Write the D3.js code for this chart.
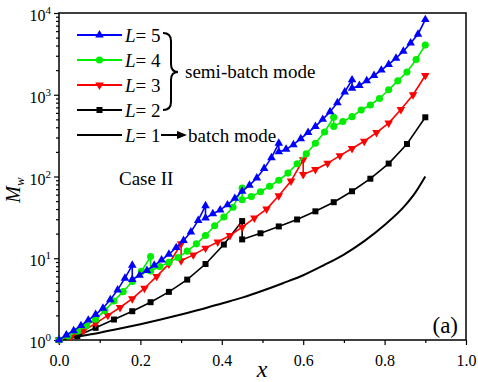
<!DOCTYPE html>
<html>
<head>
<meta charset="utf-8">
<script src="https://cdn.jsdelivr.net/npm/d3@7"></script>
<style>
  body { margin: 0; background: #fff; }
  svg { display: block; }
</style>
</head>
<body>
<svg width="478" height="382" font-family="Liberation Serif, Tinos, Times New Roman, Times, Nimbus Roman, FreeSerif, DejaVu Serif, serif"></svg>
<script>
// ---- data ----
let L5_x = [0, 0.018, 0.036, 0.054, 0.072, 0.09, 0.108, 0.126, 0.144, 0.162, 0.18,
  0.18, 0.198, 0.216, 0.234, 0.252, 0.27, 0.288, 0.306, 0.324, 0.342, 0.36,
  0.36, 0.378, 0.396, 0.414, 0.432, 0.45, 0.468, 0.486, 0.504, 0.522, 0.54,
  0.54, 0.558, 0.576, 0.594, 0.612, 0.63, 0.648, 0.666, 0.684, 0.702, 0.72,
  0.72, 0.738, 0.756, 0.774, 0.792, 0.81, 0.828, 0.846, 0.864, 0.882, 0.9];
let L5_y = [1, 1.15, 1.3, 1.5, 1.75, 2.05, 2.45, 3.1, 4.1, 5.7, 8.2,
  5.5, 6.2, 7.1, 8.2, 9.5, 11.2, 13.5, 16.5, 21, 29, 44,
  31, 35, 39, 45, 54, 66, 78, 96, 125, 170, 255,
  200, 215, 245, 290, 345, 410, 500, 620, 800, 1080, 1520,
  1200, 1300, 1480, 1720, 2000, 2350, 2800, 3400, 4300, 5500, 8300];

let L4_x = [0, 0.0225, 0.045, 0.0675, 0.09, 0.1125, 0.135, 0.1575, 0.18, 0.2025, 0.225,
  0.225, 0.2475, 0.27, 0.2925, 0.315, 0.3375, 0.36, 0.3825, 0.405, 0.4275, 0.45,
  0.45, 0.4725, 0.495, 0.5175, 0.54, 0.5625, 0.585, 0.6075, 0.63, 0.6525, 0.675,
  0.675, 0.6975, 0.72, 0.7425, 0.765, 0.7875, 0.81, 0.8325, 0.855, 0.8775, 0.9];
let L4_y = [1, 1.12, 1.28, 1.5, 1.8, 2.3, 3.0, 3.9, 5.2, 6.9, 10.5,
  7.0, 7.9, 8.9, 10.2, 12.2, 15.0, 19.0, 25, 32, 42, 72,
  52, 57, 65, 76, 90, 110, 143, 190, 255, 350, 530,
  410, 470, 540, 650, 750, 900, 1150, 1480, 1900, 2700, 4050];

let L3_x = [0, 0.03, 0.06, 0.09, 0.12, 0.15, 0.18, 0.21, 0.24, 0.27, 0.3,
  0.3, 0.33, 0.36, 0.39, 0.42, 0.45, 0.48, 0.51, 0.54, 0.57, 0.6,
  0.6, 0.63, 0.66, 0.69, 0.72, 0.75, 0.78, 0.81, 0.84, 0.87, 0.9];
let L3_y = [1, 1.1, 1.3, 1.6, 2.0, 2.5, 3.2, 4.3, 6.0, 8.5, 15,
  9.3, 11, 13.3, 15.8, 19, 24, 31, 40, 58, 88, 160,
  106, 122, 145, 180, 220, 270, 345, 450, 660, 1000, 1720];

let L2_x = [0, 0.045, 0.09, 0.135, 0.18, 0.225, 0.27, 0.315, 0.36, 0.405, 0.45,
  0.45, 0.495, 0.54, 0.585, 0.63, 0.675, 0.72, 0.765, 0.81, 0.855, 0.9];
let L2_y = [1, 1.12, 1.41, 1.78, 2.25, 2.9, 3.88, 5.48, 8.5, 14.7, 28.5,
  17, 20.2, 24.5, 29.8, 37.5, 48.5, 66, 94, 144, 250, 530];

let L1_x = [0, 0.05, 0.1, 0.15, 0.2, 0.25, 0.3, 0.35, 0.4, 0.45, 0.5,
  0.55, 0.6, 0.65, 0.7, 0.75, 0.8, 0.85, 0.875, 0.9];
let L1_y = [1, 1.11, 1.23, 1.38, 1.56, 1.78, 2.05, 2.38, 2.8, 3.3, 4.0,
  4.95, 6.2, 8.2, 11.1, 16.2, 25.5, 44, 63, 100];

let xTicks = [0, 0.2, 0.4, 0.6, 0.8, 1.0];
let xMinor = [0.1, 0.3, 0.5, 0.7, 0.9];
let yTicks = [1, 10, 100, 1000, 10000];
let yExp = ['0', '1', '2', '3', '4'];

// ---- layout ----
let plotLeft = 59, plotRight = 466, plotTop = 13, plotBottom = 340;
let serif = 'Liberation Serif, Tinos, Times New Roman, Times, Nimbus Roman, FreeSerif, DejaVu Serif, serif';

let svg = d3.select('svg');

let xScale = d3.scaleLinear().domain([0, 1]).range([plotLeft, plotRight]);
let yScale = d3.scaleLog().domain([1, 10000]).range([plotBottom, plotTop]);

// minor y ticks 2..9 per decade
let yMinor = [];
yTicks.slice(0, -1).forEach(d => {
  for (let k = 2; k <= 9; k++) yMinor.push(d * k);
});

// axes
let xAxis = svg.append('g')
  .attr('transform', `translate(0,${plotBottom})`)
  .call(d3.axisBottom(xScale).tickValues(xTicks).tickSize(5).tickPadding(6)
    .tickFormat(d3.format('.1f')));
svg.append('g')
  .attr('transform', `translate(0,${plotBottom})`)
  .call(d3.axisBottom(xScale).tickValues(xMinor).tickSize(3).tickFormat(''));
xAxis.attr('font-family', serif).attr('font-size', 16);
xAxis.selectAll('text').attr('dy', '0.95em').attr('fill', '#000');

svg.append('g')
  .attr('transform', `translate(${plotLeft},0)`)
  .call(d3.axisLeft(yScale).tickValues(yTicks).tickSize(5).tickFormat(''));
svg.append('g')
  .attr('transform', `translate(${plotLeft},0)`)
  .call(d3.axisLeft(yScale).tickValues(yMinor).tickSize(3).tickFormat(''));

svg.selectAll('.domain').remove();
svg.selectAll('.tick line').attr('stroke', '#000').attr('stroke-width', 1.2);

// y tick labels 10^n
let yLab = svg.append('g');
yTicks.forEach((d, i) => {
  let t = yLab.append('text')
    .attr('x', 51)
    .attr('y', yScale(d) + 8)
    .attr('text-anchor', 'end')
    .attr('font-size', 16);
  t.append('tspan').text('10');
  t.append('tspan').attr('font-size', 11).attr('dy', -7).text(yExp[i]);
});

// frame
svg.append('rect')
  .attr('x', plotLeft).attr('y', plotTop)
  .attr('width', plotRight - plotLeft).attr('height', plotBottom - plotTop)
  .attr('fill', 'none').attr('stroke', '#000').attr('stroke-width', 1.5);

// ---- series ----
let line = d3.line()
  .x(d => xScale(d[0]))
  .y(d => yScale(d[1]));
let smooth = d3.line()
  .x(d => xScale(d[0]))
  .y(d => yScale(d[1]))
  .curve(d3.curveMonotoneX);

let zip = (xs, ys) => xs.map((x, i) => [x, ys[i]]);

let series = [
  {x: L1_x, y: L1_y, color: '#000000', marker: null},
  {x: L2_x, y: L2_y, color: '#000000', marker: 'square'},
  {x: L3_x, y: L3_y, color: '#ff0000', marker: 'down'},
  {x: L4_x, y: L4_y, color: '#00ee00', marker: 'circle'},
  {x: L5_x, y: L5_y, color: '#0000ff', marker: 'up'}
];

function symbolPath(kind) {
  if (kind === 'square') return d3.symbol().type(d3.symbolSquare).size(36)();
  if (kind === 'circle') return d3.symbol().type(d3.symbolCircle).size(40)();
  return d3.symbol().type(d3.symbolTriangle).size(32)();
}

series.forEach(s => {
  let pts = zip(s.x, s.y);
  svg.append('path')
    .attr('fill', 'none')
    .attr('stroke', s.color)
    .attr('stroke-width', s.marker ? 1.6 : 2)
    .attr('d', s.marker ? line(pts) : smooth(pts));
  if (s.marker) {
    svg.append('g').selectAll('path')
      .data(pts)
      .enter().append('path')
      .attr('d', symbolPath(s.marker))
      .attr('transform', d => `translate(${xScale(d[0])},${yScale(d[1])})` +
        (s.marker === 'down' ? ' rotate(180)' : ''))
      .attr('fill', s.color);
  }
});

// ---- legend ----
let legend = [
  {label: '5', color: '#0000ff', marker: 'up'},
  {label: '4', color: '#00ee00', marker: 'circle'},
  {label: '3', color: '#ff0000', marker: 'down'},
  {label: '2', color: '#000000', marker: 'square'},
  {label: '1', color: '#000000', marker: null}
];
let legY = [35, 60, 85, 110, 135];

legend.forEach((d, i) => {
  let y = legY[i];
  svg.append('line')
    .attr('x1', 77).attr('x2', 122).attr('y1', y).attr('y2', y)
    .attr('stroke', d.color).attr('stroke-width', 1.8);
  if (d.marker) {
    svg.append('path')
      .attr('d', symbolPath(d.marker))
      .attr('transform', `translate(99.5,${y})` + (d.marker === 'down' ? ' rotate(180)' : ''))
      .attr('fill', d.color);
  }
  let t = svg.append('text').attr('x', 125).attr('y', y + 7).attr('font-size', 19);
  t.append('tspan').attr('font-style', 'italic').text('L');
  t.append('tspan').text('= ' + d.label);
});

// brace
svg.append('path')
  .attr('d', 'M163,33 Q171,33 171,41 L171,64 Q171,72 178,72 Q171,72 171,80 L171,102 Q171,110 163,110')
  .attr('fill', 'none').attr('stroke', '#000').attr('stroke-width', 2);
svg.append('text').attr('x', 185).attr('y', 78).attr('font-size', 19).text('semi-batch mode');

// arrow to batch mode
svg.append('line')
  .attr('x1', 161).attr('x2', 180).attr('y1', 135).attr('y2', 135)
  .attr('stroke', '#000').attr('stroke-width', 2);
svg.append('path')
  .attr('d', 'M187,135 L177,131 L177,139 Z')
  .attr('fill', '#000');
svg.append('text').attr('x', 188).attr('y', 142).attr('font-size', 19).text('batch mode');

// annotations
svg.append('text').attr('x', 119).attr('y', 185).attr('font-size', 19).text('Case II');
svg.append('text').attr('x', 458).attr('y', 333).attr('font-size', 23)
  .attr('text-anchor', 'end').text('(a)');

// axis titles
svg.append('text')
  .attr('x', 262).attr('y', 377)
  .attr('text-anchor', 'middle')
  .attr('font-size', 24).attr('font-style', 'italic')
  .text('x');

let yt = svg.append('text')
  .attr('transform', 'translate(20,190) rotate(-90)')
  .attr('text-anchor', 'middle')
  .attr('font-size', 20).attr('font-style', 'italic');
yt.append('tspan').text('M');
yt.append('tspan').attr('font-size', 13).attr('dy', 4).text('w');
</script>
</body>
</html>
